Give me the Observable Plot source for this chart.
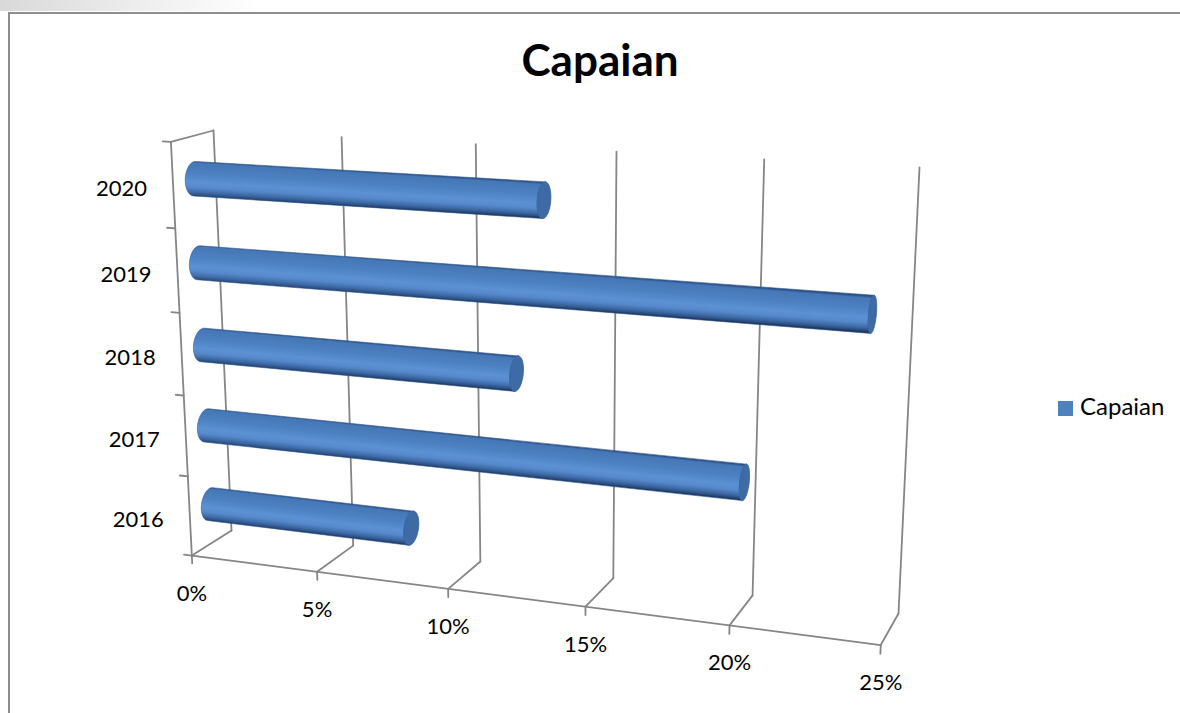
<!DOCTYPE html>
<html>
<head>
<meta charset="utf-8">
<script src="https://cdn.jsdelivr.net/npm/d3@7"></script>
<script src="https://cdn.jsdelivr.net/npm/@observablehq/plot@0.6"></script>
<style>
  html, body { margin: 0; padding: 0; background: #fff; }
  #wrap { position: relative; width: 1180px; height: 713px; overflow: hidden; font-family: Lato, "Open Sans", sans-serif; }
  #wrap svg { position: absolute; left: 0; top: 0; }
  #shade { position: absolute; left: 0; top: 0; width: 260px; height: 11px;
           background: linear-gradient(to right, #d9d9d9, rgba(255,255,255,0)); }
  #frame { position: absolute; left: 8px; top: 12px; width: 1200px; height: 720px;
           border-top: 2px solid #8e8e8e; border-left: 2px solid #8e8e8e; }
  #title { position: absolute; left: 0; top: 37px; width: 1200px; text-align: center;
           font: bold 44px/44px Lato, sans-serif; color: #000; }
  #legend { position: absolute; left: 1058px; top: 394px; font: 24px/24px Lato, sans-serif; color: #000; white-space: nowrap; }
  #legend .key { display: inline-block; width: 15px; height: 15px; background: #4f81bd; margin-right: 7px; vertical-align: -1px; }
</style>
</head>
<body>
<div id="wrap">
  <div id="shade"></div>
  <div id="frame"></div>
  <div id="title"></div>
  <div id="legend"></div>
</div>
<script>
// ---- data -------------------------------------------------------------
const seriesName = "Capaian";
const categories = ["2016", "2017", "2018", "2019", "2020"];
const values = [8, 20, 12, 24, 13];             // percent
const valueTicks = [0, 5, 10, 15, 20, 25];
const valueTickLabels = ["0%", "5%", "10%", "15%", "20%", "25%"];

// ---- 3-D box camera ----------------------------------------------------
// World space: value (0–25) × category height (0–5) × depth (0 = back wall, 1 = front).
const VMAX = 25, HMAX = categories.length;
const backCorners = [[0, 0, 231, 530], [VMAX, 0, 898, 613], [0, HMAX, 213, 130], [VMAX, HMAX, 919, 167]];
const frontRefs = [[0, 0, 191, 555], [VMAX, 0, 880, 645], [0, HMAX, 171, 141]];

function solve(A, b) {
  const n = b.length, M = A.map((r, i) => [...r, b[i]]);
  for (let c = 0; c < n; c++) {
    let p = c;
    for (let r = c + 1; r < n; r++) if (Math.abs(M[r][c]) > Math.abs(M[p][c])) p = r;
    [M[c], M[p]] = [M[p], M[c]];
    for (let r = 0; r < n; r++) {
      if (r === c) continue;
      const f = M[r][c] / M[c][c];
      for (let k = c; k <= n; k++) M[r][k] -= f * M[c][k];
    }
  }
  return M.map((r, i) => r[n] / r[i]);
}

// back wall: plane homography
const H = (() => {
  const A = [], b = [];
  for (const [x, y, u, v] of backCorners) {
    A.push([x, y, 1, 0, 0, 0, -u * x, -u * y]); b.push(u);
    A.push([0, 0, 0, x, y, 1, -v * x, -v * y]); b.push(v);
  }
  return [...solve(A, b), 1];
})();

// depth direction as a homogeneous vector (least squares)
const D = (() => {
  const rows = [], rhs = [];
  for (const [x, y, u, v] of frontRefs) {
    const X = H[0] * x + H[1] * y + H[2], Y = H[3] * x + H[4] * y + H[5], W = H[6] * x + H[7] * y + H[8];
    rows.push([1, 0, -u]); rhs.push(u * W - X);
    rows.push([0, 1, -v]); rhs.push(v * W - Y);
  }
  const AtA = [0, 1, 2].map(i => [0, 1, 2].map(j => d3.sum(rows, r => r[i] * r[j])));
  const Atb = [0, 1, 2].map(i => d3.sum(rows, (r, k) => r[i] * rhs[k]));
  return solve(AtA, Atb);
})();

function camera(v, h, d = 1) {
  const X = H[0] * v + H[1] * h + H[2] + d * D[0];
  const Y = H[3] * v + H[4] * h + H[5] + d * D[1];
  const W = H[6] * v + H[7] * h + H[8] + d * D[2];
  return [X / W, Y / W];
}

const projection = d3.geoTransform({
  point(x, y, z) {
    const [px, py] = camera(x, y, z ?? 1);
    this.stream.point(px, py);
  }
});

// ---- walls, floor and axes ----------------------------------------------
const line = (...pts) => ({type: "LineString", coordinates: pts});
const gridLines = valueTicks.map(v => line([v, 0, 0], [v, HMAX, 0]));
const floorLines = valueTicks.map(v => line([v, 0, 0], [v, 0, 1]));
const wallTop = [line([0, HMAX, 0], [0, HMAX, 1])];
const catAxis = [line([0, 0, 1], [0, HMAX, 1])];
const catTicks = d3.range(HMAX + 1).map(k => line([-0.32, k, 1], [0, k, 1]));
const valAxis = [line([0, 0, 1], [VMAX, 0, 1])];
const valTicks = valueTicks.map(v => line([v, 0, 1], [v, -0.1, 1]));

// ---- cylinders ----------------------------------------------------------
const R_H = 0.2, R_D = 0.22, D_C = 0.5, ARC = 32;
const onCircle = (v, hc, t) => [v, hc + R_H * Math.cos(t), D_C + R_D * Math.sin(t)];

// shading across the tube, from upper to lower outline
const tubeStops = [
  [0, "#2c5189"], [0.06, "#4677b6"], [0.35, "#4c81c2"], [0.6, "#5b92d4"],
  [0.74, "#5689cc"], [0.87, "#3f6ca8"], [0.95, "#2c5185"], [1, "#1d365e"]
];

// outline angles of a tube, plus the screen-space span across it
function silhouette(V, hc) {
  const vm = V / 2;
  const c0 = camera(vm, hc, D_C), p1 = camera(vm + 1, hc, D_C), p0 = camera(vm - 1, hc, D_C);
  let ax = p1[0] - p0[0], ay = p1[1] - p0[1];
  const L = Math.hypot(ax, ay); ax /= L; ay /= L;
  const nx = -ay, ny = ax;
  let tTop = 0, tBot = Math.PI, sMin = Infinity, sMax = -Infinity;
  for (let i = 0; i <= 720; i++) {
    const t = -Math.PI / 2 + i * 2 * Math.PI / 720;
    const [px, py] = camera(...onCircle(vm, hc, t));
    const s = (px - c0[0]) * nx + (py - c0[1]) * ny;
    if (s < sMin) { sMin = s; tTop = t; }
    if (s > sMax) { sMax = s; tBot = t; }
  }
  if (tBot < tTop) tBot += 2 * Math.PI;
  const span = [
    [c0[0] + sMin * nx, c0[1] + sMin * ny],
    [c0[0] + sMax * nx, c0[1] + sMax * ny]
  ];
  return {tTop, tBot, span};
}

const bodies = [], caps = [], gradients = [];
categories.forEach((cat, i) => {
  const V = values[i], hc = i + 0.5;
  const {tTop: t0, tBot: t1, span} = silhouette(V, hc);
  const arc = d3.range(ARC + 1).map(k => t0 + (t1 - t0) * k / ARC);
  const outline = [...arc.map(t => onCircle(0, hc, t)), ...arc.slice().reverse().map(t => onCircle(V, hc, t))];
  bodies.push({id: `tube-${cat}`, geometry: {type: "Polygon", coordinates: [[...outline, outline[0]]]}});
  gradients.push({id: `tube-${cat}`, x1: span[0][0], y1: span[0][1], x2: span[1][0], y2: span[1][1]});
  const capRing = d3.range(49).map(j => onCircle(V, hc, j * 2 * Math.PI / 48));
  caps.push({type: "Polygon", coordinates: [capRing]});
});

function tubeGradients() {
  const defs = d3.create("svg:defs");
  for (const g of gradients) {
    const lg = defs.append("linearGradient").attr("id", g.id).attr("gradientUnits", "userSpaceOnUse")
      .attr("x1", g.x1).attr("y1", g.y1).attr("x2", g.x2).attr("y2", g.y2);
    for (const [o, c] of tubeStops) lg.append("stop").attr("offset", o).attr("stop-color", c);
  }
  return defs.node();
}

// ---- plot -----------------------------------------------------------------
const axisStyle = {stroke: "#858585", strokeWidth: 1.8, fill: "none"};
const textStyle = {fontFamily: "Lato, sans-serif", fontSize: 22, fill: "#000"};

const chart = Plot.plot({
  width: 1180,
  height: 713,
  margin: 0,
  projection,
  x: {type: "identity"},
  y: {type: "identity"},
  marks: [
    tubeGradients,
    Plot.geo([...gridLines, ...floorLines, ...wallTop], axisStyle),
    Plot.geo([...catAxis, ...catTicks, ...valAxis, ...valTicks], axisStyle),
    ...bodies.map(b => Plot.geo([b.geometry], {fill: `url(#${b.id})`, stroke: "#2f578e", strokeWidth: 0.6})),
    Plot.geo(caps, {fill: "#3e6ba6", stroke: "#34609a", strokeWidth: 0.8}),
    Plot.text(valueTicks, {x: d => d, y: () => 0, text: (d, i) => valueTickLabels[i], dy: 38, textAnchor: "middle", ...textStyle}),
    Plot.text(categories, {x: () => 0, y: (d, i) => i + 0.5, text: d => d, dx: -26, dy: 4, textAnchor: "end", ...textStyle})
  ]
});

document.getElementById("wrap").appendChild(chart);
document.getElementById("title").textContent = seriesName;
document.getElementById("legend").innerHTML = `<span class="key"></span>${seriesName}`;
</script>
</body>
</html>
